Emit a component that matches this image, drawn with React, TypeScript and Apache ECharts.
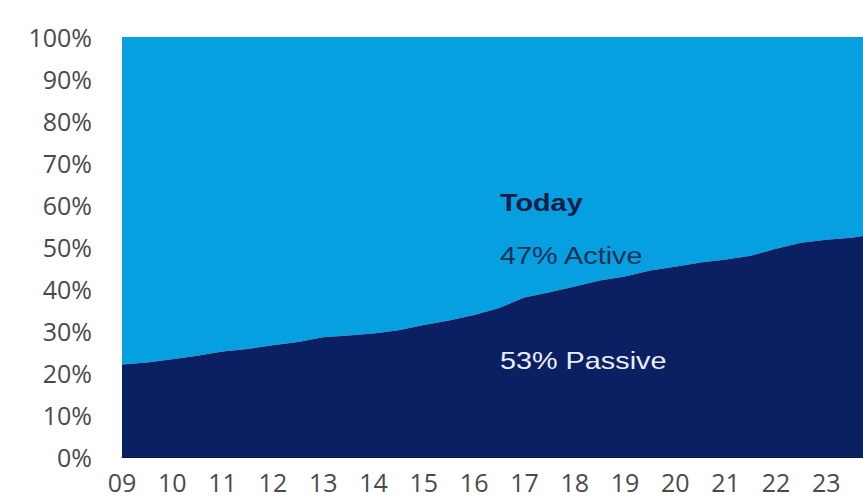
import React, { useEffect, useRef } from "react";
import * as echarts from "echarts";

// Fractional years (x) and passive share (%)
const years = [
  2009.0, 2009.5, 2010.0, 2010.5, 2011.0, 2011.5, 2012.0, 2012.5, 2013.0, 2013.5,
  2014.0, 2014.5, 2015.0, 2015.5, 2016.0, 2016.5, 2017.0, 2017.5, 2018.0, 2018.5,
  2019.0, 2019.5, 2020.0, 2020.5, 2021.0, 2021.5, 2022.0, 2022.5, 2023.0, 2023.5, 2023.73,
];
const passive = [
  22.0, 22.5, 23.3, 24.1, 25.1, 25.7, 26.6, 27.4, 28.5, 28.9,
  29.4, 30.2, 31.4, 32.5, 33.8, 35.5, 38.0, 39.2, 40.6, 42.0,
  43.0, 44.4, 45.3, 46.3, 47.0, 47.9, 49.6, 51.0, 51.7, 52.2, 52.6,
];
// Active share fills the remainder above the passive boundary up to 100%
const active = passive.map((p) => 100 - p);

const yTicks = { min: 0, max: 100, interval: 10 };
const xRange = { min: 2009, max: 2023.73, interval: 1 };

const annotations = [
  { text: "Today", bold: true, color: "#0f1c46" },
  { text: "47% Active", bold: false, color: "#1b3155" },
  { text: "53% Passive", bold: false, color: "#e8eef7" },
];

export default function App() {
  const ref = useRef<HTMLDivElement>(null);

  useEffect(() => {
    if (!ref.current) return;
    const chart = echarts.init(ref.current, null, { renderer: "svg" });
    const navy = "#0b1f63";
    const blue = "#069fe0";
    const annotY = [203, 256, 361];
    chart.setOption({
      animation: false,
      backgroundColor: "#ffffff",
      grid: { left: 122, right: 0, top: 37, bottom: 42, containLabel: false },
      xAxis: {
        type: "value",
        min: xRange.min,
        max: xRange.max,
        interval: xRange.interval,
        axisLine: { show: true, lineStyle: { color: "#0a1545", width: 1 } },
        axisTick: { show: false },
        splitLine: { show: false },
        axisLabel: {
          margin: 12,
          fontFamily: "Open Sans",
          fontSize: 25,
          lineHeight: 25,
          color: "#4a4a4a",
          showMaxLabel: false,
          formatter: (v: number) =>
            Number.isInteger(v) ? String(v % 100).padStart(2, "0") : "",
        },
      },
      yAxis: {
        type: "value",
        min: yTicks.min,
        max: yTicks.max,
        interval: yTicks.interval,
        axisLine: { show: false },
        axisTick: { show: false },
        splitLine: { show: false },
        axisLabel: {
          margin: 30,
          fontFamily: "Open Sans",
          fontSize: 25,
          color: "#4a4a4a",
          formatter: "{value}%",
        },
      },
      series: [
        {
          name: "Active",
          type: "line",
          symbol: "none",
          lineStyle: { width: 0 },
          // top share: filled from the passive boundary up to the 100% edge
          areaStyle: { color: blue, opacity: 1, origin: "end" },
          data: years.map((y, i) => [y, 100 - active[i]]),
          z: 1,
        },
        {
          name: "Passive",
          type: "line",
          symbol: "none",
          lineStyle: { width: 0 },
          areaStyle: { color: navy, opacity: 1, origin: "start" },
          data: years.map((y, i) => [y, passive[i]]),
          z: 2,
        },
      ],
      graphic: annotations.map((a, i) => ({
        type: "text",
        x: 500,
        y: annotY[i],
        scaleX: 1.2,
        z: 100,
        style: {
          text: a.text,
          fill: a.color,
          fontFamily: "Liberation Sans",
          fontSize: 24,
          fontWeight: a.bold ? "bold" : "normal",
          textAlign: "left",
          textVerticalAlign: "middle",
        },
      })),
    });
    return () => chart.dispose();
  }, []);

  return (
    <div
      ref={ref}
      style={{ position: "absolute", left: 0, top: 0, width: 863, height: 499 }}
    />
  );
}
